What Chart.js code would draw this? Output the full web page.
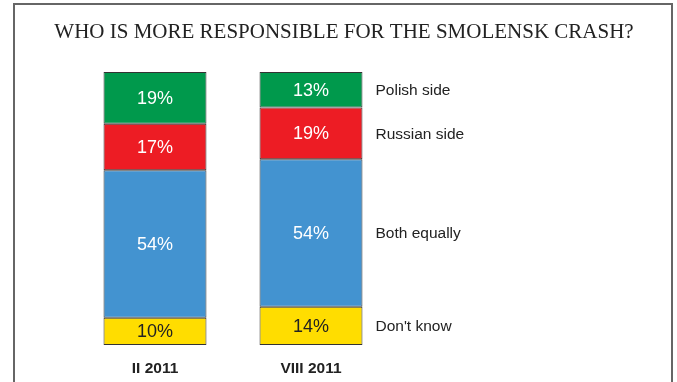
<!DOCTYPE html>
<html>
<head>
<meta charset="utf-8">
<script src="https://cdn.jsdelivr.net/npm/chart.js@4/dist/chart.umd.min.js"></script>
<style>
  html, body { margin: 0; padding: 0; background: #fff; }
  #wrap { width: 677px; height: 382px; position: relative; }
</style>
</head>
<body>
<div id="wrap"><canvas id="c" width="677" height="382"></canvas></div>
<script>
// Survey waves and answer shares (%)
const periods = ['II 2011', 'VIII 2011'];
const answers = ['Polish side', 'Russian side', 'Both equally', "Don't know"];
const polishSide = [19, 13];
const russianSide = [17, 19];
const bothEqually = [54, 54];
const dontKnow = [10, 14];
const chartTitle = 'WHO IS MORE RESPONSIBLE FOR THE SMOLENSK CRASH?';

const GREEN = '#00994c';
const RED = '#ed1c24';
const BLUE = '#4393d0';
const YELLOW = '#ffdd00';
const OUTLINE = '#333333';

// Stacked from the bottom up: don't know, both, russian, polish
const datasets = [
  { label: answers[3], data: dontKnow, backgroundColor: YELLOW, textColor: '#222' },
  { label: answers[2], data: bothEqually, backgroundColor: BLUE, textColor: '#fff' },
  { label: answers[1], data: russianSide, backgroundColor: RED, textColor: '#fff' },
  { label: answers[0], data: polishSide, backgroundColor: GREEN, textColor: '#fff' }
].map(d => Object.assign(d, {
  borderColor: OUTLINE,
  borderWidth: 1,
  borderSkipped: false,
  categoryPercentage: 1,
  barPercentage: 0.66
}));

// Frame around the panel and the heading
const framePlugin = {
  id: 'frame',
  beforeDraw(chart) {
    const ctx = chart.ctx;
    ctx.save();
    ctx.fillStyle = '#fff';
    ctx.fillRect(0, 0, chart.width, chart.height);
    ctx.strokeStyle = '#666';
    ctx.lineWidth = 2;
    ctx.beginPath();
    ctx.moveTo(14, chart.height + 2);
    ctx.lineTo(14, 4);
    ctx.lineTo(672, 4);
    ctx.lineTo(672, chart.height + 2);
    ctx.stroke();
    ctx.fillStyle = '#222';
    ctx.font = '21px "Liberation Serif", "Times New Roman", serif';
    ctx.textAlign = 'center';
    ctx.textBaseline = 'alphabetic';
    ctx.fillText(chartTitle, 344, 38);
    ctx.restore();
  }
};

// Percent labels inside each segment, answer names beside the last bar
const labelPlugin = {
  id: 'segLabels',
  afterDatasetsDraw(chart) {
    const ctx = chart.ctx;
    ctx.save();
    chart.data.datasets.forEach((ds, i) => {
      const meta = chart.getDatasetMeta(i);
      meta.data.forEach((bar, j) => {
        const cy = (bar.y + bar.base) / 2;
        ctx.font = '18px "Liberation Sans", Arial, sans-serif';
        ctx.fillStyle = ds.textColor;
        ctx.textAlign = 'center';
        ctx.textBaseline = 'middle';
        ctx.fillText(ds.data[j] + '%', bar.x, cy + 1);
        if (j === meta.data.length - 1) {
          ctx.font = '15.5px "Liberation Sans", Arial, sans-serif';
          ctx.fillStyle = '#222';
          ctx.textAlign = 'left';
          ctx.fillText(ds.label, bar.x + bar.width / 2 + 13, cy + 1);
        }
      });
    });
    ctx.restore();
  }
};

new Chart(document.getElementById('c'), {
  type: 'bar',
  data: { labels: periods, datasets },
  options: {
    responsive: false,
    animation: false,
    layout: { padding: { top: 72, left: 77, right: 288, bottom: 5 } },
    plugins: {
      legend: { display: false },
      title: { display: false },
      tooltip: { enabled: false }
    },
    scales: {
      x: {
        stacked: true,
        grid: { display: false, drawTicks: false },
        border: { display: false },
        afterFit(scale) { scale.height = 32; },
        ticks: {
          padding: 14,
          color: '#222',
          font: { family: '"Liberation Sans", Arial, sans-serif', size: 15.5, weight: 'bold' }
        }
      },
      y: {
        stacked: true,
        display: false,
        min: 0,
        max: 100
      }
    }
  },
  plugins: [framePlugin, labelPlugin]
});
</script>
</body>
</html>
